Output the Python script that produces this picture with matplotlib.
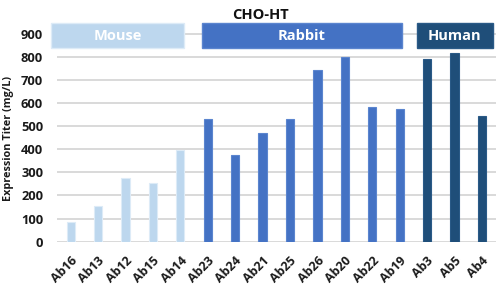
import matplotlib
matplotlib.use("Agg")
import matplotlib.pyplot as plt
from matplotlib.patches import Rectangle

plt.rcParams['font.family'] = ['Open Sans', 'DejaVu Sans']

antibodies = ['Ab16', 'Ab13', 'Ab12', 'Ab15', 'Ab14',
              'Ab23', 'Ab24', 'Ab21', 'Ab25', 'Ab26', 'Ab20', 'Ab22', 'Ab19',
              'Ab3', 'Ab5', 'Ab4']
titers = [87, 155, 277, 253, 397,
          531, 375, 470, 531, 743, 801, 584, 573,
          792, 818, 545]
species = ['Mouse'] * 5 + ['Rabbit'] * 8 + ['Human'] * 3

groups = ['Mouse', 'Rabbit', 'Human']
fill = {'Mouse': '#BDD7EE', 'Rabbit': '#4472C4', 'Human': '#1F4E79'}
edge = {'Mouse': '#DDEBF7', 'Rabbit': '#5B85CF', 'Human': '#2A5A87'}
# label box extents in category units (left, right)
box_x = {'Mouse': (-0.72, 4.14), 'Rabbit': (4.79, 12.08), 'Human': (12.63, 15.4)}

fig = plt.figure(figsize=(4.97, 2.88), dpi=100)
ax = fig.add_axes([0.1147, 0.1608, 0.8825, 0.7619])

x = list(range(len(antibodies)))
ax.bar(x, titers, width=0.3,
       color=[fill[s] for s in species],
       edgecolor=[edge[s] for s in species], linewidth=0.8, zorder=3)

ax.set_xlim(-0.5, 15.5)
ax.set_ylim(0, 950)
ax.set_yticks(range(0, 901, 100))
ax.set_yticklabels([str(v) for v in range(0, 901, 100)],
                   fontsize=9.3, fontweight='bold', color='#1a1a1a')
ax.yaxis.grid(True, color='#D9D9D9', linewidth=1.4, zorder=0)
ax.set_axisbelow(True)
ax.tick_params(axis='y', length=0, pad=10)
ax.tick_params(axis='x', length=0, pad=9)
ax.set_xticks(x)
ax.set_xticklabels(antibodies, rotation=45, ha='right', rotation_mode='anchor',
                   fontsize=9, fontweight='bold', color='#1a1a1a')
for s in ax.spines.values():
    s.set_visible(False)

ax.set_ylabel('Expression Titer (mg/L)', fontsize=7.8, fontweight='bold',
              color='#1a1a1a')
ax.yaxis.set_label_coords(-0.098, 0.47)

for g in groups:
    x0, x1 = box_x[g]
    ax.add_patch(Rectangle((x0, 838), x1 - x0, 109, facecolor=fill[g],
                           edgecolor=edge[g], linewidth=1.0, zorder=4,
                           clip_on=False))
    ax.text((x0 + x1) / 2, 890, g, ha='center', va='center', color='white',
            fontsize=10.5, fontweight='bold', zorder=5)

fig.text(260 / 497, 1 - 15 / 288, 'CHO-HT', ha='center', va='center',
         fontsize=10.5, fontweight='bold', color='#111111')

fig.savefig('out.png', dpi=100)
